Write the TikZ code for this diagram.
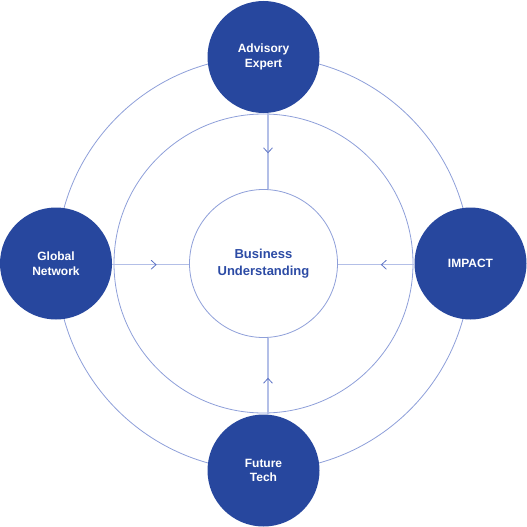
\documentclass[tikz,border=0pt]{standalone}
\usepackage{fontspec}
\setmainfont{Liberation Sans}
\usetikzlibrary{calc,decorations.markings}
\definecolor{navy}{HTML}{27479E}
\definecolor{ring}{HTML}{8E9FD9}
\definecolor{conn}{HTML}{B3BFE7}
\definecolor{chevc}{HTML}{5C72C4}
\definecolor{ctext}{HTML}{2C4BA5}
\begin{document}
\begin{tikzpicture}[x=1pt,y=-1pt,
  sat/.style={circle,fill=navy,minimum size=112pt,inner sep=0pt,text=white,
    font=\bfseries\fontsize{12}{14.5}\selectfont,align=center},
  hub/.style={circle,draw=ring,line width=0.8pt,fill=white,minimum size=148pt,inner sep=0pt,
    text=ctext,font=\bfseries\fontsize{13}{17}\selectfont,align=center},
  ringline/.style={draw=ring,line width=0.8pt},
  connline/.style={draw=conn,line width=1.3pt},
  chevat/.style={postaction={decorate,decoration={markings,
    mark=at position #1 with {\draw[chevc,line width=0.8pt,line cap=round,line join=miter] (-4.8pt,-4.4pt) -- (0pt,0pt) -- (-4.8pt,4.4pt);}}}}]
\useasboundingbox (0,0) rectangle (527,527);
\coordinate (O) at (263.5,263.5);
\draw[ringline] (O) circle (207pt);
\draw[ringline] (O) circle (149.5pt);
\node[sat] (adv) at (263.5,57) {Advisory\\Expert};
\node[sat] (glob) at (56,263.5) {Global\\Network};
\node[sat] (imp) at (470.5,263.5) {IMPACT};
\node[sat] (fut) at (263.5,470.5) {Future\\Tech};
\node[hub] (bus) at (O) {Business\\Understanding};
\draw[connline,chevat=0.52] ([xshift=4.5pt]adv.south) -- ([xshift=4.5pt]bus.north);
\draw[connline,chevat=0.57] ([yshift=-1.2pt]glob.east) -- ([yshift=-1.2pt]bus.west);
\draw[connline,chevat=0.43] ([yshift=-1.2pt]imp.west) -- ([yshift=-1.2pt]bus.east);
\draw[connline,chevat=0.47] ([xshift=4.5pt]fut.north) -- ([xshift=4.5pt]bus.south);
\end{tikzpicture}
\end{document}
